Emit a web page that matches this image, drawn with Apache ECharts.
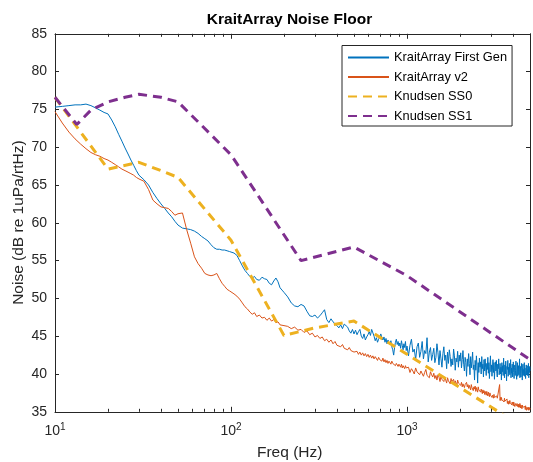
<!DOCTYPE html>
<html><head><meta charset="utf-8">
<script src="https://cdn.jsdelivr.net/npm/echarts@6/dist/echarts.min.js"></script>
<style>html,body{margin:0;padding:0;background:#fff}#c{width:533px;height:462px}</style>
</head><body><div id="c"></div>
<script>
// ---- data ----
const freq = [
  10,11,12,13,14,15,16,17,18,19,20,21,22,23,24,25,26,27,28,29,30,
  32,34,36,38,40,42,44,46,48,50,
  53,56,59,62,65,68,71,74,77,80,83,86,89,92,95,98,
  100,104,108,112,116,120,124,128,132,136,140,145,150,155,160,165,170,175,180,185,190,195,200,
  210,220,230,240,250,260,270,280,290,300,310,320,330,340,350,360,370,380,390,400,410,420,430,440,450,460,470,480,490,500,
  510,520,530,540,550,560,570,580,590,600,
  610,620,630,640,650,660,670,680,690,700,
  710,720,730,740,750,760,770,780,790,800,
  810,820,830,840,850,860,870,880,890,900,
  910,920,930,940,950,960,970,980,990,1000,
  1020,1040,1060,1080,1100,1120,1140,1160,1180,1200,
  1220,1240,1260,1280,1300,1320,1340,1360,1380,1400,
  1420,1440,1460,1480,1500,1520,1540,1560,1580,1600,
  1620,1640,1660,1680,1700,1720,1740,1760,1780,1800,
  1820,1840,1860,1880,1900,1920,1940,1960,1980,2000,
  2020,2040,2060,2080,2100,2120,2140,2160,2180,2200,
  2220,2240,2260,2280,2300,2320,2340,2360,2380,2400,
  2420,2440,2460,2480,2500,2520,2540,2560,2580,2600,
  2620,2640,2660,2680,2700,2720,2740,2760,2780,2800,
  2820,2840,2860,2880,2900,2920,2940,2960,2980,3000,
  3020,3040,3060,3080,3100,3120,3140,3160,3180,3200,
  3220,3240,3260,3280,3300,3320,3340,3360,3380,3400,
  3420,3440,3460,3480,3500,3520,3540,3560,3580,3600,
  3620,3640,3660,3680,3700,3720,3740,3760,3780,3800,
  3820,3840,3860,3880,3900,3920,3940,3960,3980,4000,
  4020,4040,4060,4080,4100,4120,4140,4160,4180,4200,
  4220,4240,4260,4280,4300,4320,4340,4360,4380,4400,
  4420,4440,4460,4480,4500,4520,4540,4560,4580,4600,
  4620,4640,4660,4680,4700,4720,4740,4760,4780,4800,
  4820,4840,4860,4880,4900,4920,4940,4960,4980,5000
];
const firstGen = [
  75.3,75.4,75.5,75.6,75.6,75.7,75.5,75.2,74.9,74.6,74.4,73.6,72.7,71.7,70.8,69.9,69.1,68.3,67.6,66.9,66.3,
  65.7,65.0,64.0,63.2,62.5,61.9,61.3,60.8,60.2,59.7,
  59.3,59.2,59.1,58.9,58.6,58.2,57.9,57.6,57.1,56.7,56.5,56.5,56.4,56.4,56.3,56.2,
  56.1,56.0,55.7,55.0,54.3,53.7,53.3,52.9,52.7,52.9,52.5,52.4,52.8,52.6,52.5,52.0,51.8,52.3,52.7,52.2,51.4,51.1,50.8,
  50.2,49.4,49.0,48.9,49.2,49.0,48.3,47.7,47.6,47.8,47.4,47.7,48.1,48.5,47.2,46.8,47.3,46.9,47.0,46.4,46.1,46.5,46.0,46.6,46.8,46.2,45.7,45.4,45.9,45.3,
  45.8,45.2,45.6,45.9,45.0,44.7,45.3,44.5,44.9,45.2,
  45.6,45.1,45.9,46.1,45.0,44.4,44.8,44.2,44.6,44.9,
  45.3,44.8,44.5,44.9,44.2,44.7,44.0,44.5,44.3,43.9,
  44.4,43.6,43.2,42.5,43.5,44.2,44.6,43.9,44.3,43.7,
  44.1,43.4,44.4,43.8,43.2,44.0,43.5,44.3,43.1,43.7,
  42.4,43.8,44.6,42.9,43.3,41.9,43.6,44.1,42.2,43.0,
  44.3,42.0,43.1,42.7,44.8,41.6,42.9,43.5,41.8,42.6,
  43.4,41.5,42.2,44.0,42.8,41.2,43.1,42.0,40.9,42.7,
  43.6,41.8,42.5,40.7,42.9,41.4,43.2,42.3,41.0,42.0,
  41.2,43.3,42.4,40.5,42.1,41.6,43.0,40.9,42.5,41.7,
  42.8,40.8,41.9,43.1,41.3,40.4,42.2,41.5,39.7,42.0,
  41.0,42.7,41.4,39.9,42.3,40.8,41.7,42.9,40.6,41.2,
  39.2,41.8,40.5,42.4,41.1,38.8,41.5,40.2,42.1,40.9,
  41.6,40.0,42.3,40.7,41.3,39.6,41.9,40.4,42.0,40.8,
  39.8,41.4,40.6,42.2,40.1,41.5,39.4,41.0,42.4,40.3,
  41.2,39.7,40.8,41.9,40.2,41.5,39.3,40.9,41.6,40.4,
  41.8,40.1,39.6,41.3,40.7,42.0,39.9,40.5,41.4,40.0,
  40.9,39.2,41.5,40.3,41.1,39.8,42.1,40.6,39.5,41.2,
  40.0,41.7,40.4,39.1,41.0,40.6,41.8,39.7,40.9,40.2,
  41.4,39.9,40.7,41.9,39.5,40.8,40.1,41.3,39.6,40.5,
  41.6,40.2,39.4,40.9,41.2,39.8,40.5,41.7,40.0,39.3,
  40.8,41.5,39.7,40.3,41.1,39.9,40.6,42.0,39.5,40.4,
  41.0,39.6,40.7,41.4,40.1,39.2,40.9,41.3,39.8,40.6,
  40.2,41.5,39.7,40.8,41.0,39.4,40.5,41.2,39.9,40.3,
  41.1,39.8,40.6,40.0,41.4,39.5,40.7,40.2,41.0,40.4
];
const v2 = [
  74.7,73.2,72.0,71.1,70.4,69.8,69.3,69.0,68.8,68.5,68.3,68.0,67.7,67.4,67.1,66.9,66.7,66.5,66.3,66.0,65.8,
  65.5,64.4,63.0,62.5,62.1,62.0,61.9,61.5,61.0,61.2,
  61.3,59.1,57.3,55.5,54.6,54.0,53.3,53.1,53.0,53.1,53.3,52.6,52.0,51.6,51.2,51.0,
  50.8,50.6,50.3,49.9,49.4,48.9,48.6,48.2,47.9,48.1,47.6,47.8,47.4,47.5,47.1,47.4,47.0,47.2,46.8,46.9,46.5,46.7,46.4,
  46.3,46.0,46.2,45.8,45.9,45.5,45.7,45.2,45.4,44.9,45.1,44.7,44.9,44.4,44.6,44.2,44.5,44.0,44.3,43.8,44.0,43.6,43.9,43.4,43.6,43.2,43.5,43.1,43.3,42.9,
  42.8,43.0,42.6,42.9,42.5,42.8,42.4,42.7,42.3,42.6,
  42.2,42.5,42.1,42.4,42.0,42.3,42.1,41.8,42.2,41.9,
  42.0,41.7,42.1,41.6,41.9,41.5,41.8,41.4,41.7,41.6,
  41.3,41.7,41.4,41.2,41.6,41.1,41.4,41.5,41.0,41.3,
  41.2,40.9,41.3,40.8,41.1,41.0,40.7,41.1,40.8,40.9,
  40.9,40.2,40.7,40.4,40.0,40.8,40.3,40.5,39.9,40.4,
  40.5,39.7,40.2,40.6,39.8,40.0,39.5,40.3,39.9,39.6,
  40.1,39.4,39.8,39.2,39.9,39.6,39.0,39.7,39.3,39.5,
  39.0,39.6,39.2,38.8,39.5,39.1,39.3,38.7,39.4,39.0,
  38.8,39.3,38.6,39.1,38.9,38.5,39.2,38.8,38.6,39.0,
  38.5,38.9,38.3,38.7,38.8,38.2,38.6,38.4,38.9,38.3,
  38.6,38.1,38.5,38.3,37.9,38.6,38.2,38.4,37.8,38.3,
  38.0,38.4,37.7,38.2,38.1,37.6,38.3,37.9,37.7,38.1,
  37.6,38.0,37.8,37.4,37.9,37.5,37.8,37.3,37.7,37.6,
  37.2,37.7,37.4,37.1,37.6,37.3,37.0,37.5,37.2,37.3,
  37.4,36.9,37.2,37.0,36.8,37.3,36.9,37.1,36.7,37.0,
  36.7,37.1,36.8,36.6,37.0,36.7,36.9,38.6,36.5,36.9,
  36.5,36.9,36.6,36.4,36.8,36.5,36.7,36.3,36.8,36.4,
  36.6,36.2,36.5,36.3,36.7,36.1,36.4,36.5,36.0,36.4,
  36.1,36.5,36.2,36.0,36.4,36.2,35.9,36.3,36.1,36.2,
  35.8,36.3,36.0,36.2,35.7,36.1,35.9,36.2,35.8,36.0,
  36.1,35.7,35.9,36.0,35.6,36.0,35.8,35.6,36.1,35.8,
  35.5,35.9,35.7,35.8,35.4,35.9,35.6,35.8,35.5,35.7,
  35.8,35.4,35.6,35.7,35.3,35.8,35.5,35.6,35.2,35.6,
  35.4,35.7,35.3,35.6,35.5,35.2,35.6,35.4,35.3,35.5
];
const ss0Freq = [10, 20, 30, 40, 50, 100, 200, 300, 500, 5000];
const ss0Vals = [76.6, 67.1, 68.0, 66.9, 66.0, 57.7, 45.1, 46.1, 47.0, 32.4];
const ss1Freq = [10, 13.3, 16, 20, 25, 30, 40, 50, 100, 250, 500, 1000, 5000];
const ss1Vals = [76.6, 73.0, 74.9, 76.0, 76.6, 77.0, 76.6, 76.0, 69.0, 55.0, 56.8, 53.0, 41.9];
const seriesNames = ['KraitArray First Gen', 'KraitArray v2', 'Knudsen SS0', 'Knudsen SS1'];
const xTickValues = [10, 100, 1000];
const xTickExps = ['1', '2', '3'];
const minorTickFreqs = [20,30,40,50,60,70,80,90,200,300,400,500,600,700,800,900,2000,3000,4000];
const yMin = 35, yMax = 85, yStep = 5;
const xMin = 10, xMax = 5000;

// ---- chart ----
const FONT = '"Liberation Sans", Arial, Helvetica, sans-serif';
const AX = '#262626';
const pair = (xs, ys) => xs.map((x, i) => [x, ys[i]]);

const chart = echarts.init(document.getElementById('c'), null, {renderer: 'canvas'});
const option = {
  animation: false,
  backgroundColor: '#fff',
  grid: {left: 55, top: 33.8, width: 480, height: 378, containLabel: false},
  legend: {
    data: seriesNames, orient: 'vertical', left: 342, top: 45.5,
    itemWidth: 41, itemHeight: 12, itemGap: 6.5,
    padding: [5.5, 5, 3.5, 5],
    borderColor: AX, borderWidth: 1, backgroundColor: '#fff',
    itemStyle: {opacity: 0},
    textStyle: {fontSize: 12.8, color: '#000', fontFamily: FONT}
  },
  xAxis: [{
    type: 'log', logBase: 10, min: xMin, max: xMax, position: 'bottom',
    axisLine: {show: true, lineStyle: {color: AX, width: 1}},
    axisTick: {show: true, inside: true, length: 5, lineStyle: {color: AX}},
    splitLine: {show: false}, minorTick: {show: false},
    axisLabel: {
      margin: 10,
      formatter: function (v) {
        for (let i = 0; i < xTickValues.length; i++) {
          if (Math.abs(v - xTickValues[i]) < 1e-6 * v) return '{b|10}{s|' + xTickExps[i] + '}';
        }
        return '';
      },
      rich: {
        b: {fontSize: 14, fontFamily: FONT, color: AX},
        s: {fontSize: 10, fontFamily: FONT, color: AX, padding: [0, 0, 9, 0]}
      }
    }
  }, {
    type: 'log', logBase: 10, min: xMin, max: xMax, position: 'top',
    axisLine: {show: true, lineStyle: {color: AX, width: 1}},
    axisTick: {show: true, inside: true, length: 5, lineStyle: {color: AX}},
    axisLabel: {show: false}, splitLine: {show: false}
  }],
  yAxis: [{
    type: 'value', min: yMin, max: yMax, interval: yStep, position: 'left',
    axisLine: {show: true, lineStyle: {color: AX, width: 1}},
    axisTick: {show: true, inside: true, length: 4, lineStyle: {color: AX}},
    splitLine: {show: false},
    axisLabel: {fontSize: 14, color: AX, fontFamily: FONT, margin: 8}
  }, {
    type: 'value', min: yMin, max: yMax, interval: yStep, position: 'right',
    axisLine: {show: true, lineStyle: {color: AX, width: 1}},
    axisTick: {show: true, inside: true, length: 4, lineStyle: {color: AX}},
    splitLine: {show: false}, axisLabel: {show: false}
  }],
  graphic: [
    {type: 'text', x: 289.5, y: 20, silent: true,
     style: {text: 'KraitArray Noise Floor', align: 'center', verticalAlign: 'middle',
             font: 'bold 15.5px ' + FONT, fill: '#000'}},
    {type: 'text', x: 289.7, y: 453, silent: true,
     style: {text: 'Freq (Hz)', align: 'center', verticalAlign: 'middle',
             font: '15.5px ' + FONT, fill: AX}},
    {type: 'text', x: 18.5, y: 222.6, rotation: Math.PI / 2, silent: true,
     style: {text: 'Noise (dB re 1uPa/rtHz)', align: 'center', verticalAlign: 'middle',
             font: '15.5px ' + FONT, fill: AX}}
  ],
  series: [
    {name: seriesNames[0], type: 'line', data: pair(freq, firstGen), symbol: 'none',
     lineStyle: {color: '#0072BD', width: 1}, itemStyle: {color: '#0072BD'}, z: 2},
    {name: seriesNames[1], type: 'line', data: pair(freq, v2), symbol: 'none',
     lineStyle: {color: '#D95319', width: 1}, itemStyle: {color: '#D95319'}, z: 2},
    {name: seriesNames[2], type: 'line', data: pair(ss0Freq, ss0Vals), symbol: 'none',
     lineStyle: {color: '#EDB120', width: 3, type: [9, 6], cap: 'butt'}, itemStyle: {color: '#EDB120'}, z: 3},
    {name: seriesNames[3], type: 'line', data: pair(ss1Freq, ss1Vals), symbol: 'none',
     lineStyle: {color: '#7E2F8E', width: 3, type: [9, 6], cap: 'butt'}, itemStyle: {color: '#7E2F8E'}, z: 3},
    {type: 'custom', coordinateSystem: 'cartesian2d', xAxisIndex: 0, yAxisIndex: 0, silent: true,
     data: minorTickFreqs.map(f => [f, yMin]), encode: {x: 0, y: 1}, clip: false, z: 5,
     renderItem: function (params, api) {
       const f = api.value(0);
       const b = api.coord([f, yMin]);
       const t = api.coord([f, yMax]);
       const x = Math.round(b[0]) + 0.5;
       return {type: 'group', children: [
         {type: 'line', shape: {x1: x, y1: b[1], x2: x, y2: b[1] - 3}, style: {stroke: AX, lineWidth: 1}},
         {type: 'line', shape: {x1: x, y1: t[1], x2: x, y2: t[1] + 3}, style: {stroke: AX, lineWidth: 1}}
       ]};
     }}
  ]
};
chart.setOption(option);
</script>
</body></html>
